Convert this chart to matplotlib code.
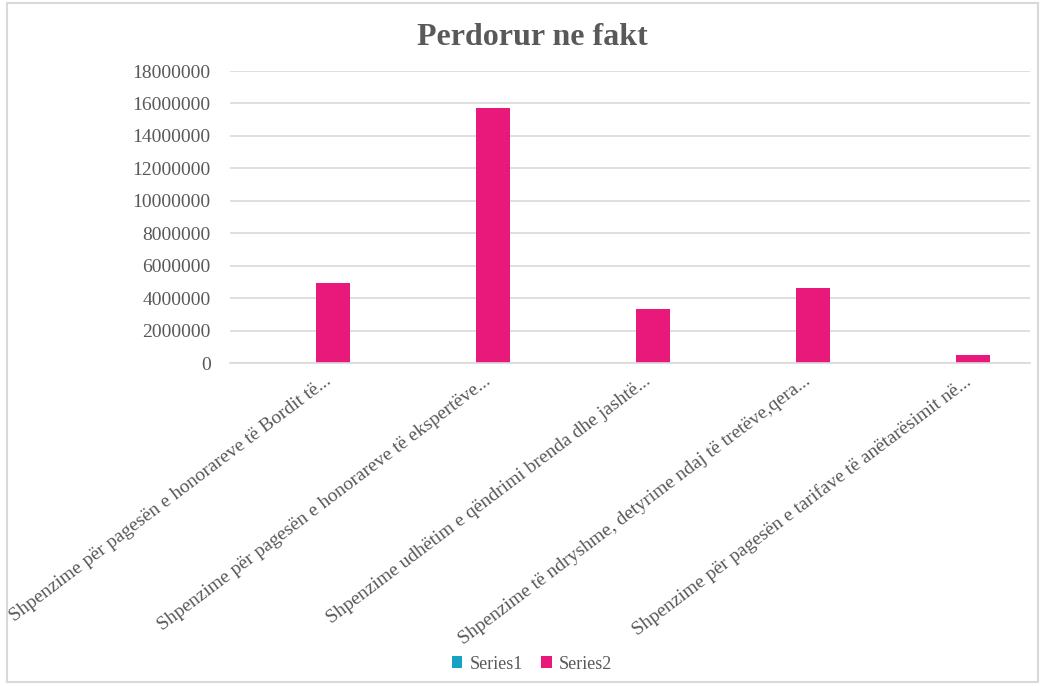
import numpy as np
import matplotlib.pyplot as plt
import matplotlib.transforms as mtransforms
from matplotlib.patches import Rectangle

categories = [
    "Shpenzime për pagesën e honorareve të Bordit të...",
    "Shpenzime për pagesën e honorareve të ekspertëve...",
    "Shpenzime udhëtim e qëndrimi brenda dhe jashtë...",
    "Shpenzime të ndryshme, detyrime ndaj të tretëve,qera...",
    "Shpenzime për pagesën e tarifave të anëtarësimit në...",
]
series1 = [0, 0, 0, 0, 0]
series2 = [4950000, 15720000, 3320000, 4630000, 470000]
yticks = np.arange(0, 18000001, 2000000)

text_col = '#595959'
plt.rcParams['font.family'] = ['Liberation Serif', 'DejaVu Serif']

fig = plt.figure(figsize=(10.43, 6.86), dpi=100)
ax = fig.add_axes([0.2205, 0.4708, 0.767, 0.4257])

x = np.arange(len(categories))
w = 0.2125
off = 0.144
ax.bar(x - off, series1, w, color='#17A2C3', label='Series1')
ax.bar(x + off, series2, w, color='#E8197B', label='Series2')

ax.set_xlim(-0.5, len(categories) - 0.5)
ax.set_ylim(0, 18000000)
ax.set_yticks(yticks)
ax.set_yticklabels([str(v) for v in yticks], color=text_col, fontsize=14)
ax.yaxis.grid(True, color='#D9D9D9', linewidth=1.2)
ax.set_axisbelow(True)
for s in ['top', 'right', 'left']:
    ax.spines[s].set_visible(False)
ax.spines['bottom'].set_color('#D9D9D9')
ax.spines['bottom'].set_linewidth(1.2)
ax.tick_params(axis='both', length=0)
ax.tick_params(axis='y', pad=14)

ax.set_xticks(x)
ax.set_xticklabels(categories, rotation=37, ha='right', rotation_mode='anchor',
                   color=text_col, fontsize=14)
ax.tick_params(axis='x', pad=7)
# shift the rotated labels a bit to the right like excel does
shift = mtransforms.ScaledTranslation(0.14, 0, fig.dpi_scale_trans)
for lbl in ax.get_xticklabels():
    lbl.set_transform(lbl.get_transform() + shift)

fig.text(0.51, 0.946, 'Perdorur ne fakt', ha='center', va='center',
         fontsize=23, fontweight='bold', color=text_col)

fig.legend(loc='center', bbox_to_anchor=(0.51, 0.032), ncol=2, frameon=False,
           fontsize=13, handlelength=0.6, handleheight=0.6, columnspacing=1.0,
           handletextpad=0.4, labelcolor=text_col)

fig.patches.append(Rectangle((0.007, 0.006), 0.988, 0.99, transform=fig.transFigure,
                             fill=False, edgecolor='#D9D9D9', linewidth=1.5))

fig.savefig('out.png', dpi=100)
